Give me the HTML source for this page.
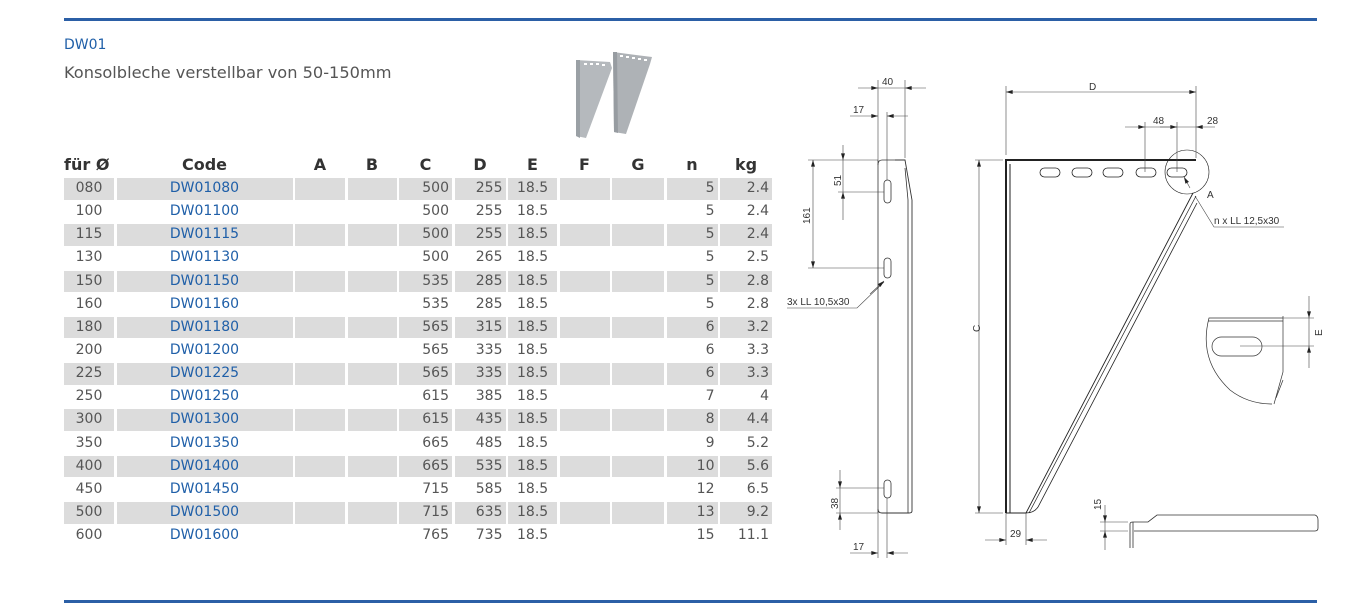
<!DOCTYPE html>
<html><head><meta charset="utf-8"><style>
*{margin:0;padding:0;box-sizing:border-box}
body{width:1354px;height:608px;background:#fff;position:relative;overflow:hidden;font-family:"DejaVu Sans","Liberation Sans",sans-serif}
.hl{position:absolute;left:64px;width:1253px;height:3px;background:#2b5fa6}
.t1{position:absolute;left:64px;top:37px;font-size:14px;color:#1f5fa8}
.t2{position:absolute;left:64px;top:63px;font-size:16.2px;color:#555}
.tbl{position:absolute;left:64px;top:152px;width:708px}
.r{display:grid;grid-template-columns:50px 176px 50px 49px 53px 51px 49px 50px 52px 51px 52px;column-gap:2.5px;height:23.15px}
.r div{height:21.6px;line-height:21.6px;font-size:14px;color:#555;white-space:nowrap}
.r.s div{background:#dcdcdc}
.h{height:26px}
.h div{font-weight:bold;font-size:16px;color:#333;text-align:center;background:none!important;line-height:26px;height:26px}
.c{text-align:center}.rt{text-align:right;padding-right:3px}.lf{padding-left:9px}
.b{color:#1f5fa8!important}
svg{position:absolute;left:0;top:0}
</style></head><body>
<div class="hl" style="top:18px"></div>
<div class="hl" style="top:600px"></div>
<div class="t1">DW01</div>
<div class="t2">Konsolbleche verstellbar von 50-150mm</div>
<div class="tbl">
<div class="r h"><div style="text-align:left">für Ø</div><div>Code</div><div>A</div><div>B</div><div>C</div><div>D</div><div>E</div><div>F</div><div>G</div><div>n</div><div>kg</div></div>
<div class="r s"><div class="c">080</div><div class="c b">DW01080</div><div></div><div></div><div class="rt">500</div><div class="rt">255</div><div class="lf">18.5</div><div></div><div></div><div class="rt">5</div><div class="rt">2.4</div></div>
<div class="r"><div class="c">100</div><div class="c b">DW01100</div><div></div><div></div><div class="rt">500</div><div class="rt">255</div><div class="lf">18.5</div><div></div><div></div><div class="rt">5</div><div class="rt">2.4</div></div>
<div class="r s"><div class="c">115</div><div class="c b">DW01115</div><div></div><div></div><div class="rt">500</div><div class="rt">255</div><div class="lf">18.5</div><div></div><div></div><div class="rt">5</div><div class="rt">2.4</div></div>
<div class="r"><div class="c">130</div><div class="c b">DW01130</div><div></div><div></div><div class="rt">500</div><div class="rt">265</div><div class="lf">18.5</div><div></div><div></div><div class="rt">5</div><div class="rt">2.5</div></div>
<div class="r s"><div class="c">150</div><div class="c b">DW01150</div><div></div><div></div><div class="rt">535</div><div class="rt">285</div><div class="lf">18.5</div><div></div><div></div><div class="rt">5</div><div class="rt">2.8</div></div>
<div class="r"><div class="c">160</div><div class="c b">DW01160</div><div></div><div></div><div class="rt">535</div><div class="rt">285</div><div class="lf">18.5</div><div></div><div></div><div class="rt">5</div><div class="rt">2.8</div></div>
<div class="r s"><div class="c">180</div><div class="c b">DW01180</div><div></div><div></div><div class="rt">565</div><div class="rt">315</div><div class="lf">18.5</div><div></div><div></div><div class="rt">6</div><div class="rt">3.2</div></div>
<div class="r"><div class="c">200</div><div class="c b">DW01200</div><div></div><div></div><div class="rt">565</div><div class="rt">335</div><div class="lf">18.5</div><div></div><div></div><div class="rt">6</div><div class="rt">3.3</div></div>
<div class="r s"><div class="c">225</div><div class="c b">DW01225</div><div></div><div></div><div class="rt">565</div><div class="rt">335</div><div class="lf">18.5</div><div></div><div></div><div class="rt">6</div><div class="rt">3.3</div></div>
<div class="r"><div class="c">250</div><div class="c b">DW01250</div><div></div><div></div><div class="rt">615</div><div class="rt">385</div><div class="lf">18.5</div><div></div><div></div><div class="rt">7</div><div class="rt">4</div></div>
<div class="r s"><div class="c">300</div><div class="c b">DW01300</div><div></div><div></div><div class="rt">615</div><div class="rt">435</div><div class="lf">18.5</div><div></div><div></div><div class="rt">8</div><div class="rt">4.4</div></div>
<div class="r"><div class="c">350</div><div class="c b">DW01350</div><div></div><div></div><div class="rt">665</div><div class="rt">485</div><div class="lf">18.5</div><div></div><div></div><div class="rt">9</div><div class="rt">5.2</div></div>
<div class="r s"><div class="c">400</div><div class="c b">DW01400</div><div></div><div></div><div class="rt">665</div><div class="rt">535</div><div class="lf">18.5</div><div></div><div></div><div class="rt">10</div><div class="rt">5.6</div></div>
<div class="r"><div class="c">450</div><div class="c b">DW01450</div><div></div><div></div><div class="rt">715</div><div class="rt">585</div><div class="lf">18.5</div><div></div><div></div><div class="rt">12</div><div class="rt">6.5</div></div>
<div class="r s"><div class="c">500</div><div class="c b">DW01500</div><div></div><div></div><div class="rt">715</div><div class="rt">635</div><div class="lf">18.5</div><div></div><div></div><div class="rt">13</div><div class="rt">9.2</div></div>
<div class="r"><div class="c">600</div><div class="c b">DW01600</div><div></div><div></div><div class="rt">765</div><div class="rt">735</div><div class="lf">18.5</div><div></div><div></div><div class="rt">15</div><div class="rt">11.1</div></div>
</div>

<svg width="1354" height="608" viewBox="0 0 1354 608">
<defs>
<marker id="a" viewBox="0 0 10 6" refX="10" refY="3" markerWidth="8" markerHeight="4" orient="auto-start-reverse" markerUnits="userSpaceOnUse"><path d="M0,0L10,3L0,6z" fill="#222"/></marker>
</defs>
<!-- product image -->
<g>
<polygon points="576,60 610,62 612,68 586,138 576,136" fill="#b5b9bd"/>
<polygon points="576,60 580,60 580,138 576,136" fill="#9aa0a5"/>
<polygon points="613,52 652,57 650,64 626,134 614,132" fill="#aeb2b6"/>
<polygon points="613,52 617,52 618,133 614,132" fill="#979ca1"/>
<g fill="#fff"><rect x="584" y="63" width="3" height="2"/><rect x="590" y="63" width="3" height="2"/><rect x="596" y="63" width="3" height="2"/><rect x="602" y="64" width="3" height="2"/>
<rect x="620" y="55" width="3" height="2"/><rect x="626" y="56" width="3" height="2"/><rect x="632" y="57" width="3" height="2"/><rect x="638" y="58" width="3" height="2"/><rect x="644" y="59" width="3" height="2"/></g>
</g>
<g fill="none" stroke="#333" stroke-width="0.8">
<!-- side view -->
<path d="M878,165 Q878,160 882,160 L898,160"/>
<path d="M895,160 L905,160 L912,200 L912,511 Q912,513 909,513 L882,513 Q878,513 878,509" stroke-width="0.9"/>
<path d="M878,160 L878,513"/>
<path d="M905,168 L908,200 L908,513"/>
<rect x="884" y="180" width="7" height="23" rx="3.5"/>
<rect x="884" y="258" width="7" height="20" rx="3.5"/>
<rect x="884" y="480" width="7" height="18" rx="3.5"/>
</g>
<g fill="none" stroke="#444" stroke-width="0.6">
<line x1="878" y1="80" x2="878" y2="160"/><line x1="905" y1="80" x2="905" y2="158"/>
<line x1="858" y1="88" x2="878" y2="88" marker-end="url(#a)"/><line x1="926" y1="88" x2="905" y2="88" marker-end="url(#a)"/><line x1="878" y1="88" x2="905" y2="88"/>
<line x1="887" y1="112" x2="887" y2="180"/>
<line x1="850" y1="116" x2="878" y2="116" marker-end="url(#a)"/><line x1="908" y1="116" x2="887" y2="116" marker-end="url(#a)"/>
<line x1="843" y1="145" x2="843" y2="160" marker-end="url(#a)"/><line x1="843" y1="220" x2="843" y2="192" marker-end="url(#a)"/><line x1="843" y1="160" x2="843" y2="192"/>
<line x1="838" y1="192" x2="884" y2="192"/>
<line x1="808" y1="160" x2="878" y2="160"/>
<line x1="813" y1="160" x2="813" y2="268" marker-start="url(#a)" marker-end="url(#a)"/>
<line x1="808" y1="268" x2="884" y2="268"/>
<polyline points="787,308 857,308 884,282"/>
<line x1="870" y1="294" x2="884" y2="281" marker-end="url(#a)"/>
<line x1="836" y1="488" x2="884" y2="488"/><line x1="836" y1="513" x2="878" y2="513"/>
<line x1="840" y1="470" x2="840" y2="488" marker-end="url(#a)"/><line x1="840" y1="530" x2="840" y2="513" marker-end="url(#a)"/><line x1="840" y1="488" x2="840" y2="513"/>
<line x1="878" y1="513" x2="878" y2="558"/><line x1="887" y1="498" x2="887" y2="558"/>
<line x1="850" y1="553" x2="878" y2="553" marker-end="url(#a)"/><line x1="908" y1="553" x2="887" y2="553" marker-end="url(#a)"/>
</g>
<g font-family="Liberation Sans,sans-serif" font-size="10" fill="#333">
<text x="882" y="85">40</text><text x="853" y="113">17</text>
<text transform="translate(841,186) rotate(-90)">51</text>
<text transform="translate(810,224) rotate(-90)">161</text>
<text x="787" y="305">3x LL 10,5x30</text>
<text transform="translate(838,509) rotate(-90)">38</text>
<text x="853" y="550">17</text>
</g>
<!-- main view -->
<g fill="none" stroke="#222">
<path d="M1006,513 L1006,160 L1196,160" stroke-width="2"/>
<path d="M1010,513 L1010,164"/>
<path d="M1006,513 L1026,513 L1193,193" stroke-width="0.9"/>
<path d="M1029,513 L1196,196" stroke-width="0.7"/>
<path d="M1026,513 Q1034,513 1038,507 L1197,203" stroke-width="0.8"/>
<g stroke-width="0.8"><rect x="1040" y="168" width="20" height="9" rx="4.5"/><rect x="1072" y="168" width="20" height="9" rx="4.5"/><rect x="1103" y="168" width="20" height="9" rx="4.5"/><rect x="1136" y="168" width="20" height="9" rx="4.5"/><rect x="1167" y="168" width="20" height="9" rx="4.5"/></g>
<circle cx="1187" cy="172" r="22" stroke-width="0.6"/>
</g>
<g fill="none" stroke="#444" stroke-width="0.6">
<line x1="1006" y1="86" x2="1006" y2="155"/><line x1="1196" y1="86" x2="1196" y2="158"/>
<line x1="1006" y1="92" x2="1196" y2="92" marker-start="url(#a)" marker-end="url(#a)"/>
<line x1="1145" y1="122" x2="1145" y2="172"/><line x1="1177" y1="122" x2="1177" y2="172"/>
<line x1="1125" y1="127" x2="1145" y2="127" marker-end="url(#a)"/><line x1="1145" y1="127" x2="1177" y2="127"/>
<line x1="1160" y1="127" x2="1177" y2="127" marker-end="url(#a)"/>
<line x1="1215" y1="127" x2="1196" y2="127" marker-end="url(#a)"/><line x1="1177" y1="127" x2="1196" y2="127"/>
<line x1="975" y1="160" x2="1003" y2="160"/>
<line x1="979" y1="160" x2="979" y2="513" marker-start="url(#a)" marker-end="url(#a)"/>
<line x1="975" y1="513" x2="1003" y2="513"/>
<line x1="1006" y1="513" x2="1006" y2="545"/><line x1="1026" y1="513" x2="1026" y2="545"/>
<line x1="985" y1="540" x2="1006" y2="540" marker-end="url(#a)"/><line x1="1047" y1="540" x2="1026" y2="540" marker-end="url(#a)"/>
<polyline points="1284,227 1214,227 1195,196"/>
<line x1="1190" y1="188" x2="1184" y2="177" marker-end="url(#a)"/>
</g>
<g font-family="Liberation Sans,sans-serif" font-size="10" fill="#333">
<text x="1089" y="90">D</text><text x="1153" y="124">48</text><text x="1207" y="124">28</text>
<text x="1207" y="198">A</text><text x="1214" y="224">n x LL 12,5x30</text>
<text transform="translate(980,332) rotate(-90)">C</text>
<text x="1010" y="537">29</text>
</g>
<!-- detail -->
<g fill="none" stroke="#333" stroke-width="0.7">
<path d="M1283,318 L1209,318 Q1198,360 1230,390 Q1248,404 1272,404"/>
<path d="M1208,321 L1283,321"/>
<path d="M1283,316 L1283,372 L1274,404"/>
<path d="M1283,380 L1276,398"/>
<rect x="1212" y="337" width="50" height="19" rx="9.5"/>
</g>
<g fill="none" stroke="#444" stroke-width="0.6">
<line x1="1283" y1="318" x2="1314" y2="318"/><line x1="1240" y1="346" x2="1314" y2="346"/>
<line x1="1309" y1="296" x2="1309" y2="318" marker-end="url(#a)"/><line x1="1309" y1="368" x2="1309" y2="346" marker-end="url(#a)"/><line x1="1309" y1="318" x2="1309" y2="346"/>
</g>
<text transform="translate(1322,336) rotate(-90)" font-family="Liberation Sans,sans-serif" font-size="10" fill="#333">E</text>
<!-- bottom profile -->
<g fill="none" stroke="#333" stroke-width="0.8">
<path d="M1130,548 L1130,524 Q1130,522 1133,522 L1148,522 L1157,515 L1315,515 Q1318,516 1318,520 L1318,528 Q1318,531 1315,531 L1134,531"/>
<line x1="1133" y1="522" x2="1133" y2="548"/>
</g>
<g fill="none" stroke="#444" stroke-width="0.6">
<line x1="1100" y1="522" x2="1128" y2="522"/><line x1="1100" y1="531" x2="1128" y2="531"/>
<line x1="1105" y1="505" x2="1105" y2="522" marker-end="url(#a)"/><line x1="1105" y1="550" x2="1105" y2="531" marker-end="url(#a)"/><line x1="1105" y1="522" x2="1105" y2="531"/>
</g>
<text transform="translate(1101,510) rotate(-90)" font-family="Liberation Sans,sans-serif" font-size="10" fill="#333">15</text>
</svg>
</body></html>
